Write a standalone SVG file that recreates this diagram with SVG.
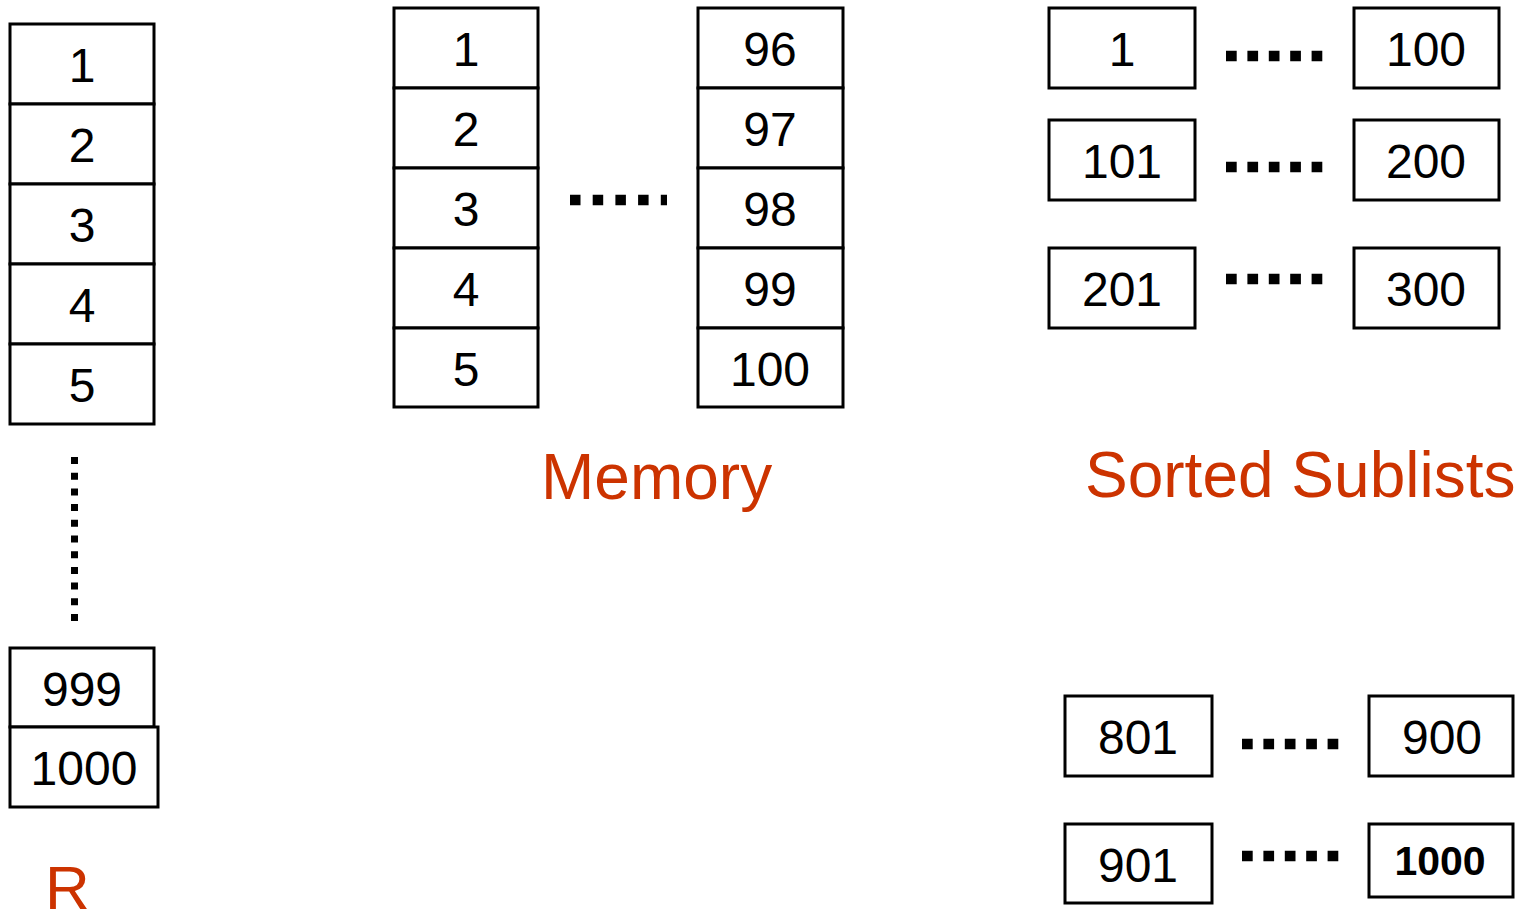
<svg xmlns="http://www.w3.org/2000/svg" width="1515" height="914" viewBox="0 0 1515 914">
<style>
.cell{fill:#fff;stroke:#000;stroke-width:3}
.num{font-family:"Liberation Sans",Arial,sans-serif;font-size:48px;fill:#000;text-anchor:middle}
.bold{font-weight:bold;font-size:41px}
.title{font-family:"Liberation Sans",Arial,sans-serif;font-size:64px;fill:#CC3300}
.dots{stroke:#000;fill:none}
.hd{stroke-width:10.5;stroke-dasharray:10.7 10.7}
</style>
<rect width="1515" height="914" fill="#fff"/>
<g id="R">
<g id="r1"><rect class="cell" x="10" y="24" width="144" height="80"/><text class="num" x="82" y="82">1</text></g>
<g id="r2"><rect class="cell" x="10" y="104" width="144" height="80"/><text class="num" x="82" y="162">2</text></g>
<g id="r3"><rect class="cell" x="10" y="184" width="144" height="80"/><text class="num" x="82" y="242">3</text></g>
<g id="r4"><rect class="cell" x="10" y="264" width="144" height="80"/><text class="num" x="82" y="322">4</text></g>
<g id="r5"><rect class="cell" x="10" y="344" width="144" height="80"/><text class="num" x="82" y="402">5</text></g>
<g id="r999"><rect class="cell" x="10" y="648" width="144" height="79"/><text class="num" x="82" y="706">999</text></g>
<g id="r1000"><rect class="cell" x="10" y="727" width="148" height="80"/><text class="num" x="84" y="785">1000</text></g>
<text class="title" x="45" y="909" style="font-size:62px">R</text>
</g>
<g id="memory">
<g id="m1"><rect class="cell" x="394" y="8" width="144" height="80"/><text class="num" x="466" y="66">1</text></g>
<g id="m2"><rect class="cell" x="394" y="88" width="144" height="80"/><text class="num" x="466" y="146">2</text></g>
<g id="m3"><rect class="cell" x="394" y="168" width="144" height="80"/><text class="num" x="466" y="226">3</text></g>
<g id="m4"><rect class="cell" x="394" y="248" width="144" height="80"/><text class="num" x="466" y="306">4</text></g>
<g id="m5"><rect class="cell" x="394" y="328" width="144" height="79"/><text class="num" x="466" y="386">5</text></g>
<g id="m96"><rect class="cell" x="698" y="8" width="145" height="80"/><text class="num" x="770" y="66">96</text></g>
<g id="m97"><rect class="cell" x="698" y="88" width="145" height="80"/><text class="num" x="770" y="146">97</text></g>
<g id="m98"><rect class="cell" x="698" y="168" width="145" height="80"/><text class="num" x="770" y="226">98</text></g>
<g id="m99"><rect class="cell" x="698" y="248" width="145" height="80"/><text class="num" x="770" y="306">99</text></g>
<g id="m100"><rect class="cell" x="698" y="328" width="145" height="79"/><text class="num" x="770" y="386">100</text></g>
<text class="title" x="541" y="499">Memory</text>
</g>
<g id="sublists">
<g id="s1"><rect class="cell" x="1049" y="8" width="146" height="80"/><text class="num" x="1122" y="66">1</text></g>
<g id="s100"><rect class="cell" x="1354" y="8" width="145" height="80"/><text class="num" x="1426" y="66">100</text></g>
<g id="s101"><rect class="cell" x="1049" y="120" width="146" height="80"/><text class="num" x="1122" y="178">101</text></g>
<g id="s200"><rect class="cell" x="1354" y="120" width="145" height="80"/><text class="num" x="1426" y="178">200</text></g>
<g id="s201"><rect class="cell" x="1049" y="248" width="146" height="80"/><text class="num" x="1122" y="306">201</text></g>
<g id="s300"><rect class="cell" x="1354" y="248" width="145" height="80"/><text class="num" x="1426" y="306">300</text></g>
<g id="s801"><rect class="cell" x="1065" y="696" width="147" height="80"/><text class="num" x="1138" y="754">801</text></g>
<g id="s900"><rect class="cell" x="1369" y="696" width="144" height="80"/><text class="num" x="1442" y="754">900</text></g>
<g id="s901"><rect class="cell" x="1065" y="824" width="147" height="79"/><text class="num" x="1138" y="882">901</text></g>
<g id="s1000"><rect class="cell" x="1369" y="824" width="144" height="73"/><text class="num bold" x="1440" y="875">1000</text></g>
<text class="title" x="1085" y="497">Sorted Sublists</text>
</g>
<g id="connectors">
<line class="dots" x1="74.5" y1="457" x2="74.5" y2="624" stroke-width="7" stroke-dasharray="7 8.7"/>
<line class="dots" x1="570" y1="200" x2="667" y2="200" stroke-width="10.5" stroke-dasharray="10.5 12.2"/>
<line class="dots hd" x1="1226" y1="56" x2="1323" y2="56"/>
<line class="dots hd" x1="1226" y1="167" x2="1323" y2="167"/>
<line class="dots hd" x1="1226" y1="279" x2="1323" y2="279"/>
<line class="dots hd" x1="1242" y1="744" x2="1339" y2="744"/>
<line class="dots hd" x1="1242" y1="856" x2="1339" y2="856"/>
</g>
</svg>
